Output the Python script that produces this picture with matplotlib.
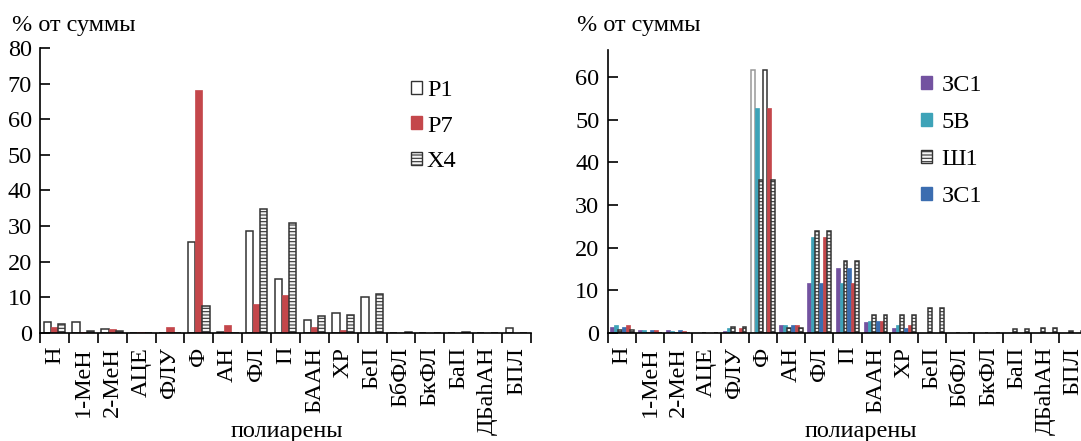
import numpy as np
import matplotlib.pyplot as plt
from matplotlib.patches import Patch

plt.rcParams['font.family'] = ['Liberation Serif', 'DejaVu Serif']
plt.rcParams['hatch.linewidth'] = 0.8

# Данные
categories = ['Н', '1-МеН', '2-МеН', 'АЦЕ', 'ФЛУ', 'Ф', 'АН', 'ФЛ', 'П', 'БААН',
              'ХР', 'БеП', 'БбФЛ', 'БкФЛ', 'БаП', 'ДБahАН', 'БПЛ']

# левый график, % от суммы
p1 = [3.2, 3.2, 1.2, 0.0, 0.0, 25.5, 0.3, 28.6, 15.1, 3.6, 5.5, 10.0, 0.0, 0.0, 0.0, 0.0, 1.3]
p7 = [1.8, 0.2, 1.0, 0.2, 1.7, 68.2, 2.2, 8.1, 10.7, 1.6, 0.8, 0.1, 0.1, 0.1, 0.1, 0.1, 0.1]
x4 = [2.5, 0.5, 0.5, 0.0, 0.0, 7.6, 0.0, 34.8, 30.8, 4.8, 5.0, 10.9, 0.4, 0.0, 0.4, 0.0, 0.0]

# правый график
zs1 = [1.4, 0.8, 0.8, 0.1, 0.4, 61.7, 1.9, 11.6, 15.3, 2.5, 1.2, 0.1, 0.1, 0.1, 0.1, 0.1, 0.1]
b5 = [1.8, 0.7, 0.4, 0.1, 1.2, 52.8, 1.8, 22.4, 11.8, 2.9, 1.9, 0.1, 0.1, 0.1, 0.1, 0.1, 0.1]
sh1 = [0.8, 0.0, 0.0, 0.0, 1.4, 35.8, 1.1, 23.9, 16.8, 4.3, 4.3, 5.9, 0.0, 0.0, 0.9, 1.1, 0.5]
zs1b = [1.4, 0.8, 0.8, 0.1, 0.3, 61.7, 1.9, 11.6, 15.3, 2.7, 1.2, 0.1, 0.1, 0.1, 0.1, 0.1, 0.1]
red2 = [1.8, 0.7, 0.4, 0.1, 1.2, 52.8, 1.8, 22.4, 11.8, 2.9, 1.9, 0.1, 0.1, 0.1, 0.1, 0.1, 0.1]
sh1b = [0.8, 0.0, 0.0, 0.0, 1.4, 35.8, 1.1, 23.9, 16.8, 4.3, 4.3, 5.9, 0.0, 0.0, 0.9, 1.1, 0.5]

RED = '#c4474b'
PURPLE = '#7352a0'
TEAL = '#3ea3b8'
BLUE = '#3b6db0'
DARK = '#333333'
FS = 17.5

fig = plt.figure(figsize=(10.81, 4.41), dpi=100)
axL = fig.add_axes([0.037, 0.2449, 0.4542, 0.6463])
axR = fig.add_axes([0.5622, 0.2449, 0.4435, 0.6417])

x = np.arange(len(categories))


def style_axis(ax, ymax, yticks):
    ax.set_xlim(-0.5, len(categories) - 0.5)
    ax.set_ylim(0, ymax)
    ax.set_yticks(yticks)
    ax.spines['top'].set_visible(False)
    ax.spines['right'].set_visible(False)
    ax.spines['left'].set_linewidth(1.2)
    ax.spines['bottom'].set_linewidth(1.2)
    ax.set_xticks(x)
    ax.set_xticklabels(categories, rotation=90, va='top')
    ax.set_xticks(np.arange(len(categories) + 1) - 0.5, minor=True)
    ax.tick_params(axis='x', which='major', length=0, pad=10, labelsize=FS)
    ax.tick_params(axis='x', which='minor', length=7, width=1.2, direction='out')
    ax.tick_params(axis='y', length=7, width=1.2, direction='in', pad=6, labelsize=FS)


# Левый
w = 0.25
axL.bar(x - w, p1, w, color='white', edgecolor=DARK, linewidth=1.1)
axL.bar(x, p7, w, color=RED, edgecolor=RED, linewidth=0.5)
axL.bar(x + w, x4, w, color='#f4f4f4', edgecolor=DARK, linewidth=1.1, hatch='-----')
style_axis(axL, 80, np.arange(0, 81, 10))

handlesL = [Patch(facecolor='white', edgecolor=DARK, label='Р1'),
            Patch(facecolor=RED, edgecolor=RED, label='Р7'),
            Patch(facecolor='#f4f4f4', edgecolor=DARK, hatch='-----', label='Х4')]
axL.legend(handles=handlesL, loc='upper left', bbox_to_anchor=(411 / 1081, 1 - 80 / 441),
           bbox_transform=fig.transFigure, frameon=False, fontsize=FS,
           handlelength=0.45, handleheight=0.45, handletextpad=0.2,
           labelspacing=0.6, borderpad=0, borderaxespad=0)

# Правый
wr = 0.14
series = [zs1, b5, sh1, zs1b, red2, sh1b]
colors = [PURPLE, TEAL, '#f4f4f4', BLUE, RED, '#f4f4f4']
edges = [PURPLE, TEAL, DARK, BLUE, RED, DARK]
hatches = [None, None, '-----', None, None, '-----']
iF = categories.index('Ф')
for k, vals in enumerate(series):
    pos = x + (k - 2.5) * wr
    fc = [colors[k]] * len(x)
    ec = [edges[k]] * len(x)
    if k in (0, 3):
        # в группе Ф эти столбцы не закрашены
        fc[iF] = 'white'
        ec[iF] = '#999999' if k == 0 else DARK
    axR.bar(pos, vals, wr, color=fc, edgecolor=ec,
            linewidth=1.1 if hatches[k] else 0.5, hatch=hatches[k])
axR.patches[iF].set_linewidth(1.1)
axR.patches[3 * len(x) + iF].set_linewidth(1.1)
style_axis(axR, 66.3, np.arange(0, 61, 10))

handlesR = [Patch(facecolor=PURPLE, edgecolor=PURPLE, label='ЗС1'),
            Patch(facecolor=TEAL, edgecolor=TEAL, label='5В'),
            Patch(facecolor='#f4f4f4', edgecolor=DARK, hatch='-----', label='Ш1'),
            Patch(facecolor=BLUE, edgecolor=BLUE, label='ЗС1')]
axR.legend(handles=handlesR, loc='upper left', bbox_to_anchor=(921 / 1081, 1 - 75 / 441),
           bbox_transform=fig.transFigure, frameon=False, fontsize=FS,
           handlelength=0.45, handleheight=0.45, handletextpad=0.4,
           labelspacing=0.66, borderpad=0, borderaxespad=0)

# Подписи
fig.text(12 / 1081, 1 - 26 / 441, '% от суммы', fontsize=FS, va='center', ha='left')
fig.text(577 / 1081, 1 - 26 / 441, '% от суммы', fontsize=FS, va='center', ha='left')
fig.text(287 / 1081, 1 - 431 / 441, 'полиарены', fontsize=FS, va='center', ha='center')
fig.text(861 / 1081, 1 - 431 / 441, 'полиарены', fontsize=FS, va='center', ha='center')

plt.savefig('out.png', dpi=100)
